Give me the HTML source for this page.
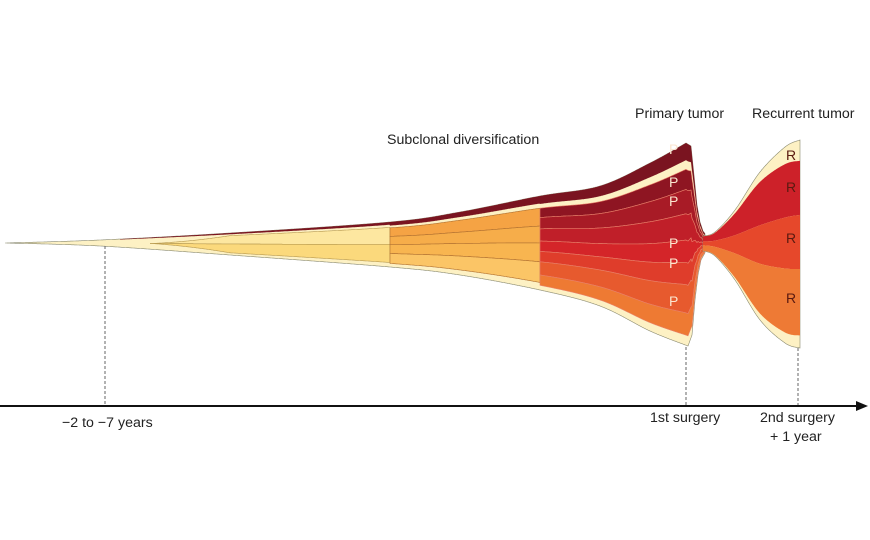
<!DOCTYPE html>
<html><head><meta charset="utf-8"><style>
html,body{margin:0;padding:0;background:#fff;}
svg{display:block;font-family:"Liberation Sans",sans-serif;}
</style></head><body>
<svg id="s" width="870" height="540" viewBox="0 0 870 540" xmlns="http://www.w3.org/2000/svg">
<g id="g"></g>
<line x1="0" y1="406" x2="858" y2="406" stroke="#111" stroke-width="2"/>
<polygon points="868,406 856,401 856,411" fill="#111"/>
<g stroke="#666" stroke-width="1" stroke-dasharray="3,2">
<line x1="105" y1="246" x2="105" y2="405"/>
<line x1="686" y1="347" x2="686" y2="405"/>
<line x1="798" y1="348" x2="798" y2="405"/>
</g>
<g font-size="14.2" fill="#222">
<text x="387" y="144">Subclonal diversification</text>
<text x="635" y="118">Primary tumor</text>
<text x="752" y="118">Recurrent tumor</text>
<text x="62" y="427">−2 to −7 years</text>
<text x="650" y="422">1st surgery</text>
<text x="760" y="422">2nd surgery</text>
<text x="770" y="441">+ 1 year</text>
</g>
<g font-size="14" fill="#fbe6d0">
<text x="669" y="154">P</text><text x="669" y="187">P</text><text x="669" y="206">P</text>
<text x="669" y="248">P</text><text x="669" y="268">P</text><text x="669" y="306">P</text>
</g>
<g font-size="14" fill="#5a1a10">
<text x="786" y="160">R</text><text x="786" y="192">R</text><text x="786" y="243">R</text><text x="786" y="303">R</text>
</g>
</svg>
<script>
function cr(pts){const out=[];const n=pts.length;for(let i=0;i<n-1;i++){const p0=pts[Math.max(0,i-1)],p1=pts[i],p2=pts[i+1],p3=pts[Math.min(n-1,i+2)];for(let k=0;k<20;k++){const t=k/20,t2=t*t,t3=t2*t;const f=(a,b,c,d)=>0.5*((2*b)+(-a+c)*t+(2*a-5*b+4*c-d)*t2+(-a+3*b-3*c+d)*t3);out.push([f(p0[0],p1[0],p2[0],p3[0]),f(p0[1],p1[1],p2[1],p3[1])]);}}out.push(pts[n-1]);return out;}
function mk(pts){const d=cr(pts);return x=>{for(let i=0;i<d.length-1;i++){const a=d[i],b=d[i+1];if(x>=a[0]&&x<=b[0]){return b[0]==a[0]?a[1]:a[1]+(b[1]-a[1])*(x-a[0])/(b[0]-a[0]);}}return x<d[0][0]?d[0][1]:d[d.length-1][1];};}
function lin(pts){return x=>{for(let i=0;i<pts.length-1;i++){const a=pts[i],b=pts[i+1];if(x>=a[0]&&x<=b[0])return a[1]+(b[1]-a[1])*(x-a[0])/(b[0]-a[0]);}return pts[pts.length-1][1];};}
const Ts=mk([[5,243],[100,240],[230,233],[390,222],[460,212],[540,196],[600,186],[650,163],[686,143]]);
const Bs=mk([[5,243],[100,246],[230,255],[390,267],[460,275],[540,290],[600,306],[650,331],[688,346]]);
const Tr=lin([[686,143],[691,146],[694,175],[697,205],[700,222],[703,231],[706,235]]);
const Br=lin([[688,346],[692,335],[695,300],[698,275],[701,260],[706,251]]);
const T=x=>x<=686?Ts(x):Tr(x);
const B=x=>x<=688?Bs(x):Br(x);
const T2=mk([[703,236],[715,232],[735,210],[760,172],[785,147],[800,140]]);
const B2=mk([[703,251],[715,256],[735,280],[760,320],[785,343],[800,348]]);
const g=document.getElementById('g');
function band(x0,x1,tp,bp,f0,f1,col,stroke){let up=[],dn=[];for(let x=x0;x<=x1+0.01;x+=0.5){const t=tp(x),b=bp(x);up.push([x,t+(b-t)*f0(x)]);dn.push([x,t+(b-t)*f1(x)]);}
let d='M'+up.map(p=>p[0].toFixed(1)+','+p[1].toFixed(1)).join('L')+'L'+dn.reverse().map(p=>p[0].toFixed(1)+','+p[1].toFixed(1)).join('L')+'Z';
const p=document.createElementNS('http://www.w3.org/2000/svg','path');p.setAttribute('d',d);p.setAttribute('fill',col);if(stroke){p.setAttribute('stroke',stroke);p.setAttribute('stroke-width','0.6');}g.appendChild(p);}
const c=v=>()=>v;
band(5,705,T,B,c(0),c(1),'#fdf1c4','#8a8a70');
band(120,705,T,B,c(0),x=>x<390?0.06:(x<540?0.08:0.085),'#7a1420');
band(150,390,T,B,x=>Math.min(0.5,0.12+Math.max(0,(230-x))/200),c(0.5),'#fde7a0','#b89a50');
band(150,390,T,B,c(0.5),x=>Math.max(0.5,0.9-Math.max(0,(230-x))/200),'#fbd97c','#b89a50');
band(390,540,T,B,c(0.13),c(0.32),'#f5a344','#b07030');
band(390,540,T,B,c(0.32),c(0.5),'#f6ad4a','#b07030');
band(390,540,T,B,c(0.5),c(0.7),'#f8b550','#b07030');
band(390,540,T,B,c(0.7),c(0.92),'#fbc566','#b07030');
const cols=[['#8e1522',0.13,0.23],['#a81b26',0.23,0.35],['#c01f29',0.35,0.48],['#d42529',0.48,0.59],['#df3d2b',0.59,0.7],['#e75a2e',0.7,0.84],['#ee7a33',0.84,0.95]];
cols.forEach(a=>band(540,705,T,B,c(a[1]),c(a[2]),a[0],'#e8806a'));
band(703,800,T2,B2,c(0),c(1),'#fdf1c4','#8a8a70');
band(703,800,T2,B2,x=>0.02+0.08*(x-703)/97,c(0.36),'#cd2129');
band(703,800,T2,B2,c(0.36),c(0.62),'#e6482b');
band(703,800,T2,B2,c(0.62),x=>0.98-0.04*(x-703)/97,'#ee7a35');
</script>
</body></html>
